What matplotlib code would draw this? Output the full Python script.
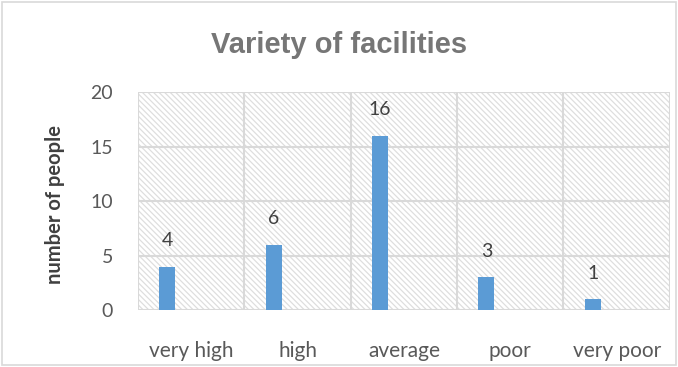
import numpy as np
import matplotlib
matplotlib.use("Agg")
import matplotlib.pyplot as plt
from matplotlib.patches import Rectangle

categories = ["very high", "high", "average", "poor", "very poor"]
counts = [4, 6, 16, 3, 1]
yticks = [0, 5, 10, 15, 20]

plt.rcParams["hatch.linewidth"] = 0.9
plt.rcParams["hatch.color"] = "#dedede"

fig = plt.figure(figsize=(6.78, 3.67), dpi=100)
ax = fig.add_axes([0.2035, 0.155, 0.7845, 0.594])

# hatched plot background
ax.patch.set_facecolor("white")
ax.patch.set_hatch("\\" * 6)
ax.patch.set_edgecolor("#dedede")

x = np.arange(len(categories))
bx = x - 0.225
ax.bar(bx, counts, width=0.15, color="#5B9BD5", zorder=3)
for xi, v in zip(bx, counts):
    ax.text(xi, v + 1.6, str(v), ha="center", va="bottom", fontsize=14,
            color="#404040", family="Lato")

ax.set_xlim(-0.5, len(categories) - 0.5)
ax.set_ylim(0, 20)
ax.set_yticks(yticks)
ax.set_xticks(x)
ax.set_xticklabels(categories)
ax.set_xticks(np.arange(len(categories) + 1) - 0.5, minor=True)
ax.grid(axis="y", color="#d9d9d9", linewidth=1.5, zorder=1)
ax.grid(axis="x", which="minor", color="#d9d9d9", linewidth=1.5, zorder=1)
ax.grid(axis="x", which="major", visible=False)
ax.set_axisbelow(True)
for s in ax.spines.values():
    s.set_visible(False)
ax.tick_params(axis="both", which="both", length=0, labelsize=14,
               labelcolor="#595959")
ax.tick_params(axis="x", labelsize=15, pad=22)
ax.tick_params(axis="y", pad=18)
for lab in ax.get_xticklabels() + ax.get_yticklabels():
    lab.set_family("Lato")

fig.text(55 / 678, 0.444, "number of people", rotation=90, ha="center",
         va="center", fontsize=14.5, fontweight="bold", color="#404040",
         family="Lato")
fig.text(0.5, 0.877, "Variety of facilities", ha="center", va="center",
         fontsize=21, fontweight="bold", color="#767676",
         family="Liberation Sans")

fig.patches.append(Rectangle((0.003, 0.005), 0.994, 0.99, transform=fig.transFigure,
                             fill=False, edgecolor="#d9d9d9", linewidth=1.2))

fig.savefig("out.png", dpi=100)
